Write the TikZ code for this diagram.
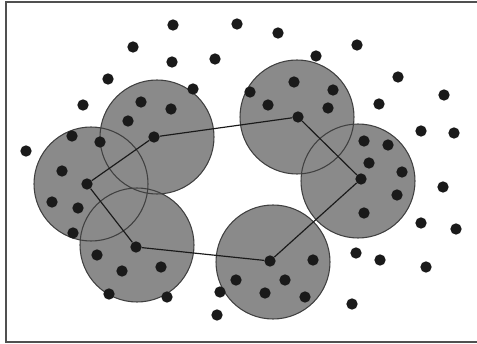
\documentclass[tikz,border=0pt]{standalone}
\usepackage{xcolor}
\definecolor{cover}{HTML}{8A8A8A}
\definecolor{rim}{HTML}{404040}
\definecolor{ink}{HTML}{1A1A1A}
\definecolor{frame}{HTML}{505050}
\tikzset{
  sensor/.style ={circle,fill=ink,inner sep=0pt,minimum size=3.4mm},
  head/.style   ={sensor},
  zone/.style   ={fill=cover},
  zonerim/.style={draw=rim,line width=0.9pt},
  link/.style   ={draw=ink,line width=1pt},
  border/.style ={draw=frame,line width=1.6pt},
}

\begin{document}
\begin{tikzpicture}[x=0.03cm,y=-0.03cm]
\useasboundingbox (0,0) rectangle (477,344);
% frame
\draw[border] (477,2) -- (6,2) -- (6,342) -- (477,342);
% coverage zones
\foreach \n/\x/\y in {1/157/137,2/91/184,3/137/245,4/273/262,5/358/181,6/297/117}
  \coordinate (c\n) at (\x,\y);
\foreach \n in {1,...,6} \fill[zone] (c\n) circle[radius=57];
\foreach \n in {1,...,6} \draw[zonerim] (c\n) circle[radius=57];
% cluster heads
\foreach \n/\x/\y in {1/154/137,2/87/184,3/136/247,4/270/261,5/361/179,6/298/117}
  \node[head] (h\n) at (\x,\y) {};
% backbone ring
\draw[link] (h1) -- (h6) -- (h5) -- (h4) -- (h3) -- (h2) -- (h1);
% member and free sensors
\foreach \x/\y [count=\i] in {173/25,237/24,278/33,133/47,172/62,215/59,108/79,
    83/105,26/151,193/89,316/56,357/45,398/77,379/104,444/95,421/131,454/133,
    443/187,421/223,456/229,356/253,380/260,426/267,352/304,217/315,220/292,
    141/102,171/109,128/121,100/142,72/136,
    294/82,333/90,250/92,268/105,328/108,
    364/141,388/145,369/163,402/172,397/195,364/213,
    313/260,285/280,265/293,305/297,236/280,
    97/255,122/271,161/267,109/294,167/297,
    62/171,52/202,78/208,73/233}
  \node[sensor] (m\i) at (\x,\y) {};
\end{tikzpicture}
\end{document}
